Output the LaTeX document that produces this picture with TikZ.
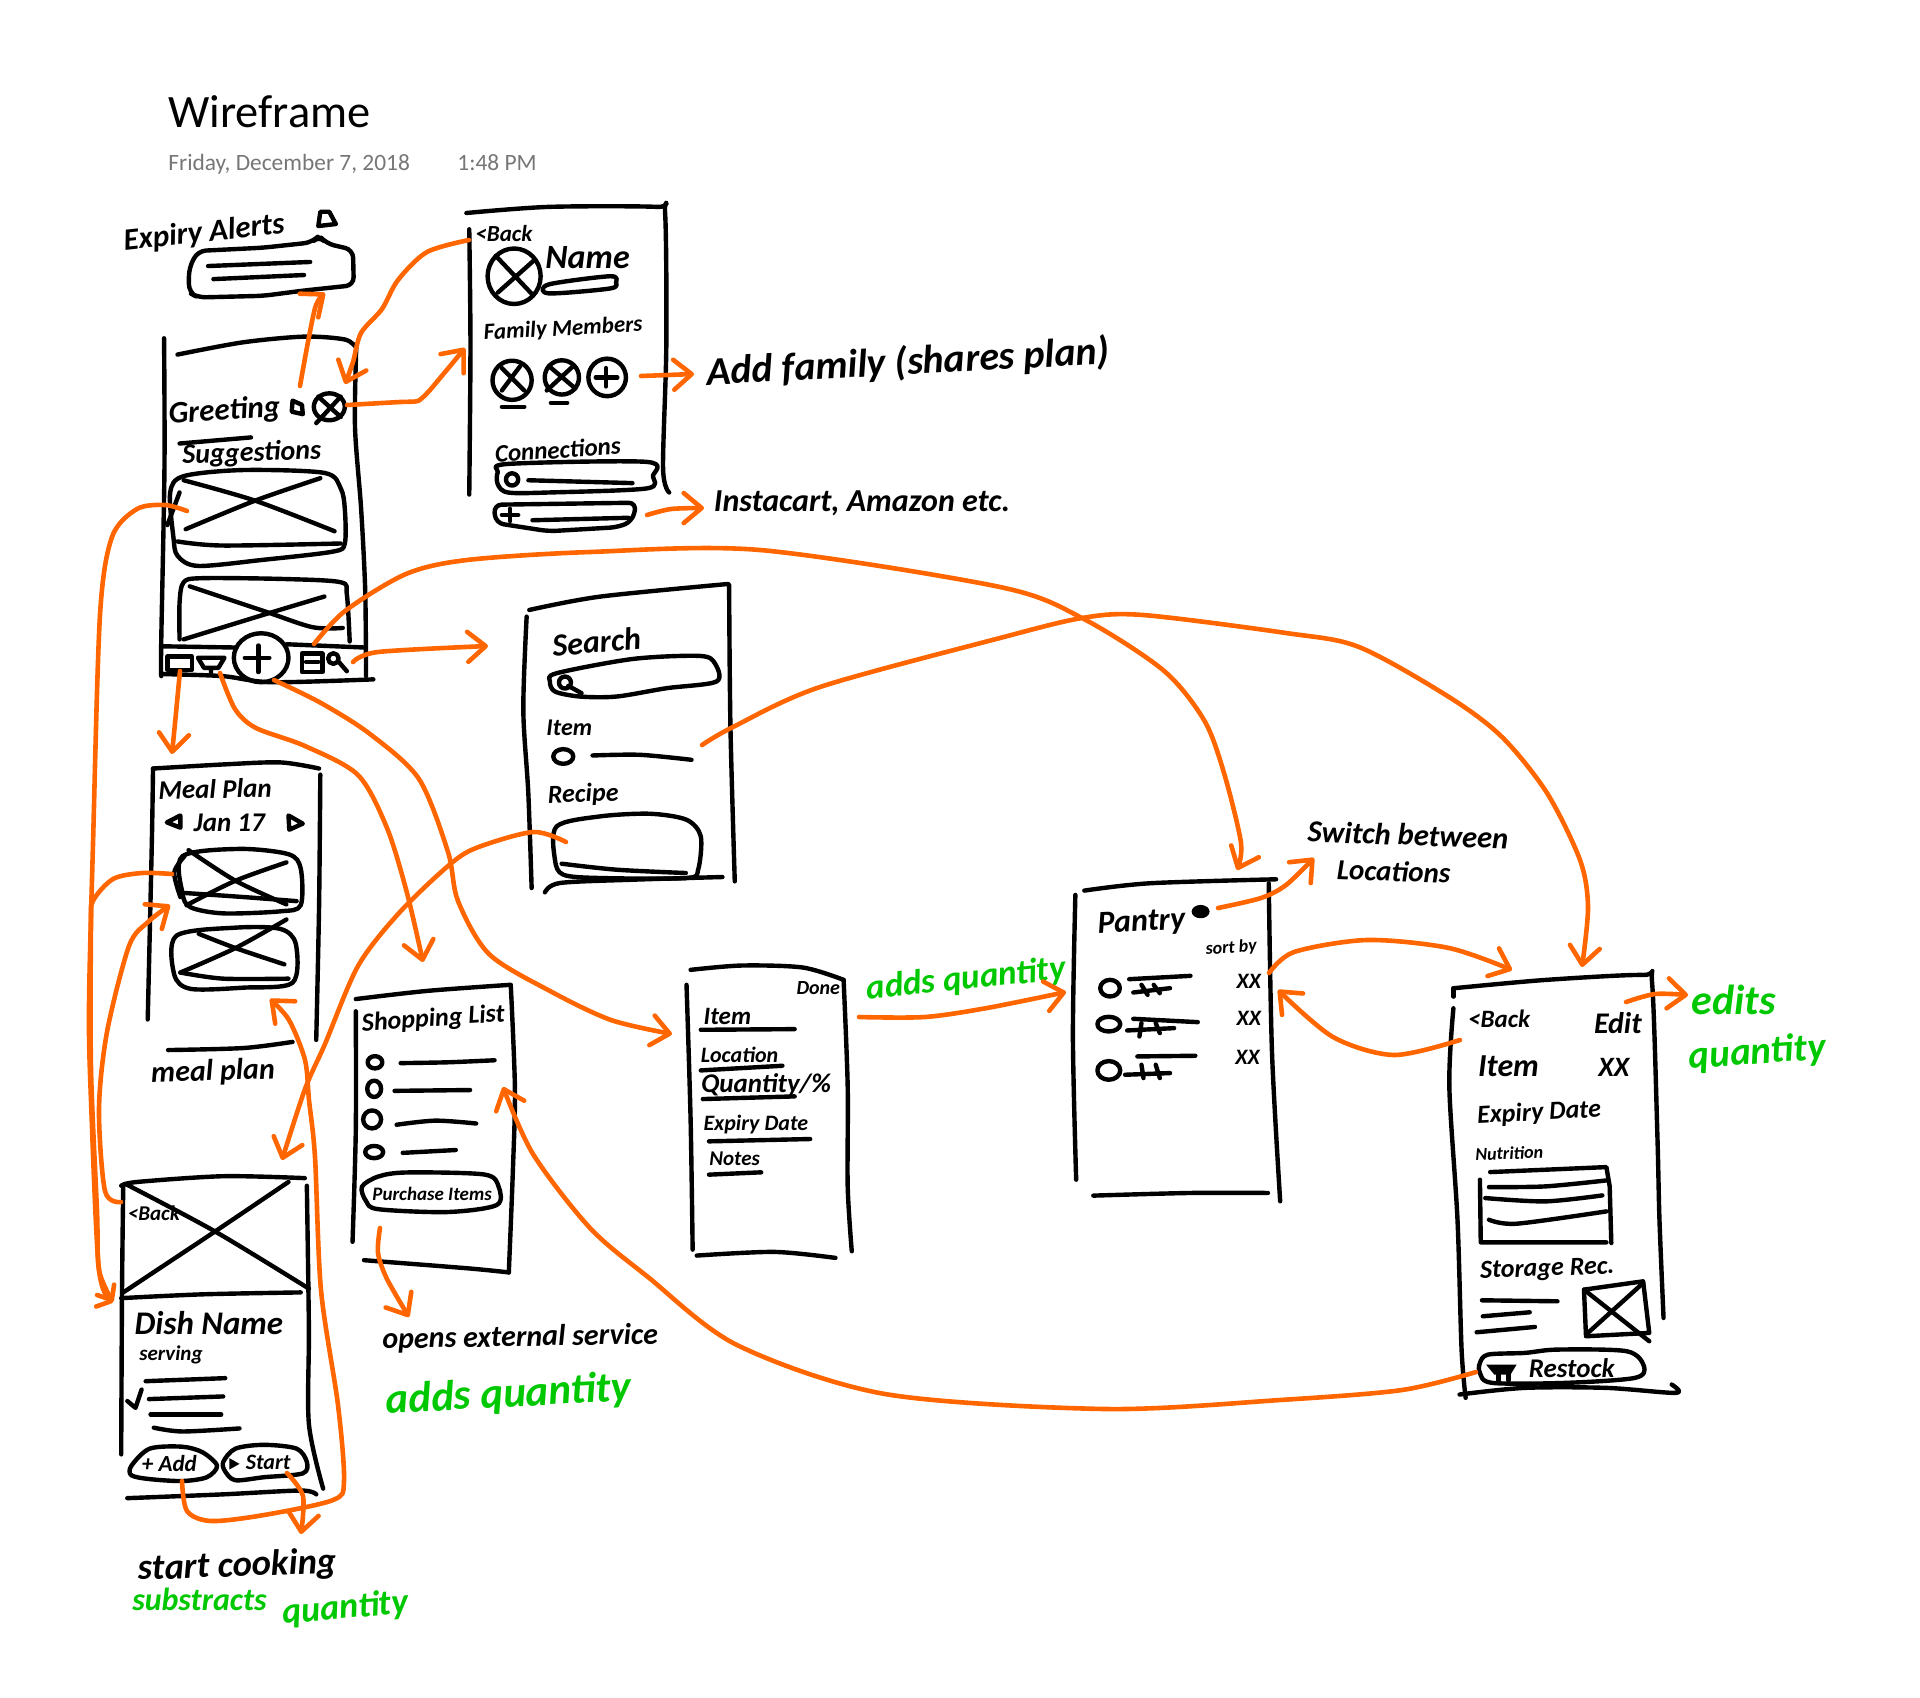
\documentclass[tikz,border=0pt]{standalone}
\usepackage{fontspec}
\setmainfont{Carlito}
\usetikzlibrary{arrows.meta}
\definecolor{flowinks}{HTML}{FF6600}
\definecolor{noteink}{HTML}{00C800}
\definecolor{stampgrey}{HTML}{767676}
\newcommand{\handsz}[1]{\bfseries\itshape\fontsize{#1}{#1}\selectfont}
\newcommand{\inkline}[1]{\draw [ink] plot [smooth] coordinates {#1};}
\newcommand{\inkloop}[1]{\draw [ink] plot [smooth cycle] coordinates {#1};}
\tikzset{
  ink/.style={line width=2.2pt,line cap=round,line join=round},
  flow/.style={line width=2.3pt,draw=flowinks,line cap=round,line join=round,
    -{Straight Barb[length=9pt,width=15pt,round]}},
  flowsmall/.style={flow,-{Straight Barb[length=6pt,width=10pt,round]}},
  hand/.style={font=\handsz{#1},inner sep=0pt},
  note/.style={hand=#1,text=noteink},
  frameA/.style={shift={(100,60)},xscale=.408,yscale=.408},
  frameB/.style={shift={(60,640)},xscale=.408,yscale=.408},
  frameC/.style={shift={(60,1100)},xscale=.408,yscale=.381},
  frameD/.style={shift={(660,820)},xscale=.408,yscale=.333},
  frameE/.style={shift={(1280,920)},xscale=.408,yscale=.333},
  frameF/.style={shift={(500,560)},xscale=.333,yscale=.333},
  frameG/.style={shift={(1000,540)},xscale=.408,yscale=.333}
}
\begin{document}
\begin{tikzpicture}[x=.5pt,y=-.5pt]
\useasboundingbox (0,0) rectangle (1920,1697);

% page heading
\node (title) [anchor=base west,inner sep=0pt,font=\fontsize{23.2}{23.2}\selectfont] at (168,127) {Wireframe};
\node (stampdate) [anchor=base west,inner sep=0pt,text=stampgrey,font=\fontsize{11.7}{11.7}\selectfont] at (168,170) {Friday, December 7, 2018};
\node (stamptime) [anchor=base west,inner sep=0pt,text=stampgrey,font=\fontsize{11.7}{11.7}\selectfont] at (457,170) {1:48 PM};

% home screen and alert, family screen
\begin{scope}[frameA]
\node (alerts) [hand=15.5,rotate=6] at (255,425) {Expiry Alerts};
\draw [ink] (540,372) -- (562,372) -- (578,402) -- (535,407) -- cycle;
\draw [ink,rounded corners=4pt] (240,468) -- (400,460) -- (520,447) -- (537,430) -- (555,450) -- (620,465) -- (622,552) -- (500,565) -- (400,578) -- (240,582) -- (218,570) -- (218,510) -- cycle;
\inkline{(265,505) (515,495)}
\inkline{(278,537) (500,527)}

\inkline{(157,682) (158,1000) (150,1430) (150,1510)}
\inkline{(190,722) (350,692) (500,678) (600,685) (628,705)}
\inkline{(628,705) (625,900) (640,1100) (650,1300) (652,1510)}
\inkline{(150,1505) (300,1510) (420,1525) (670,1518)}
\inkline{(155,1437) (335,1440)}
\inkline{(458,1432) (650,1440)}
\node (greeting) [hand=15.5,rotate=4] at (305,862) {Greeting};
\draw [ink] (472,835) -- (495,845) -- (497,868) -- (470,862) -- cycle;
\draw [ink] (562,850) ellipse [x radius=38,y radius=33];
\draw [ink] (535,825) -- (590,875) (590,825) -- (530,890);
\node (suggest) [hand=14,rotate=2] at (372,965) {Suggestions};
\inkline{(195,940) (370,925)}
\inkloop{(205,1020) (350,1005) (550,1012) (590,1050) (600,1100) (600,1185) (570,1205) (400,1225) (240,1240) (190,1215) (180,1170) (172,1060)}
\inkline{(205,1030) (380,1080) (575,1155)}
\inkline{(210,1150) (380,1080) (540,1025)}
\inkline{(190,1180) (300,1190) (590,1185)}
\inkline{(195,1060) (165,1140)}
\inkline{(195,1420) (195,1330) (205,1280) (250,1270) (450,1272) (590,1280) (605,1310) (612,1425)}
\inkline{(220,1290) (400,1350) (520,1390) (595,1392)}
\inkline{(205,1420) (400,1360) (550,1315)}
\draw [ink] (165,1462) rectangle (225,1495);
\draw [ink] (240,1465) -- (305,1465) -- (290,1490) -- (255,1490) -- cycle (272,1490) -- (272,1502);
\draw [ink] (395,1465) ellipse [x radius=67,y radius=60];
\draw [ink] (355,1465) -- (415,1465) (388,1435) -- (388,1500);
\draw [ink] (495,1455) rectangle (545,1500);
\draw [ink] (505,1475) -- (535,1475);
\draw [ink] (572,1467) circle [radius=13];
\draw [ink] (585,1475) -- (605,1498);

\inkline{(905,415) (908,700) (905,1065)}
\inkline{(898,375) (1100,360) (1365,360) (1385,375) (1388,700) (1380,1000) (1395,1060)}
\node (famback) [hand=11.5] at (990,425) {<Back};
\draw [ink] (1015,530) ellipse [x radius=65,y radius=68];
\draw [ink] (970,480) -- (1060,575) (1065,490) -- (975,570);
\node (famname) [hand=17] at (1195,485) {Name};
\inkloop{(1100,550) (1250,530) (1265,545) (1250,560) (1100,572)}
\node (fammembers) [hand=11.5,rotate=3] at (1135,660) {Family Members};
\draw [ink] (1010,785) circle [radius=48];
\draw [ink] (985,755) -- (1040,810) (1030,750) -- (985,810);
\draw [ink] (1132,778) circle [radius=42];
\draw [ink] (1100,750) -- (1165,805) (1160,750) -- (1095,810);
\draw [ink] (1243,778) circle [radius=46];
\draw [ink] (1215,778) -- (1268,778) (1240,755) -- (1240,800);
\inkline{(985,850) (1040,850)}
\inkline{(1105,840) (1145,840)}
\node (connections) [hand=12.5,rotate=4] at (1122,955) {Connections};
\inkloop{(975,1010) (1000,990) (1340,985) (1355,1020) (1340,1050) (1100,1060) (1000,1060) (975,1040)}
\draw [ink] (1010,1028) circle [radius=15];
\inkline{(1050,1030) (1305,1037)}
\draw [ink,rounded corners=4pt] (965,1090) -- (1315,1085) -- (1305,1130) -- (1270,1145) -- (1100,1155) -- (970,1135) -- cycle;
\draw [ink] (985,1115) -- (1025,1115) (1005,1100) -- (1005,1130);
\inkline{(1060,1128) (1295,1122)}
\end{scope}
\node (addfamily) [hand=20,rotate=3] at (908,363) {Add family (shares plan)};
\node (instacart) [hand=16] at (862,503) {Instacart, Amazon etc.};

% search screen
\begin{scope}[frameF]
\inkline{(80,170) (70,450) (85,700) (95,985)}
\inkline{(88,150) (300,110) (685,72)}
\inkline{(688,75) (692,500) (705,965)}
\inkline{(135,998) (180,970) (400,960) (668,952)}
\node (searchhead) [hand=16,rotate=5] at (290,245) {Search};
\inkloop{(150,365) (170,340) (400,297) (600,288) (645,310) (650,365) (500,385) (350,410) (240,410) (165,395)}
\draw [ink] (195,368) circle [radius=18];
\draw [ink] (205,378) -- (245,400);
\node (searchitem) [hand=12] at (208,505) {Item};
\draw [ink] (190,590) ellipse [x radius=30,y radius=22];
\inkline{(278,587) (420,585) (575,600)}
\node (searchrecipe) [hand=13,rotate=2] at (250,705) {Recipe};
\inkloop{(170,800) (300,770) (450,762) (560,780) (603,830) (595,930) (560,955) (300,955) (190,945) (165,900)}
\inkline{(185,912) (350,930) (558,940)}
\end{scope}

% meal plan and shopping list
\begin{scope}[frameB]
\inkline{(228,315) (225,500) (215,930)}
\inkline{(228,315) (400,305) (540,300) (635,315)}
\inkline{(638,330) (635,650) (628,980)}
\inkline{(265,1005) (450,1000) (570,985)}
\node (mealhead) [hand=13.5,rotate=1] at (380,365) {Meal Plan};
\node (mealdate) [hand=13.5] at (415,448) {Jan 17};
\draw [ink] (262,447) -- (295,430) -- (295,460) -- cycle;
\draw [ink] (560,430) -- (595,450) -- (562,465) -- cycle;
\inkloop{(300,530) (440,512) (560,525) (590,560) (590,650) (540,665) (400,670) (320,655) (300,620)}
\inkline{(305,530) (280,570) (295,630)}
\inkline{(315,515) (430,590) (555,648)}
\inkline{(555,545) (430,590) (310,650)}
\inkline{(305,620) (450,630) (580,640)}
\inkloop{(285,725) (430,705) (540,708) (578,745) (570,840) (450,852) (320,855) (280,820)}
\inkline{(340,720) (430,755) (550,795)}
\inkline{(555,685) (430,755) (295,815)}
\inkline{(295,815) (400,830) (560,830)}
\node (mealnote) [hand=15,rotate=2] at (375,1060) {meal plan};

\inkline{(725,910) (725,1200) (717,1475)}
\inkline{(725,880) (900,860) (1105,845)}
\inkline{(1105,850) (1115,1100) (1110,1300) (1100,1550)}
\inkline{(745,1520) (1000,1540) (1100,1550)}
\node (shophead) [hand=13,rotate=4] at (915,930) {Shopping List};
\draw [ink] (772,1035) ellipse [x radius=18,y radius=15];
\draw [ink] (770,1100) ellipse [x radius=17,y radius=20];
\draw [ink] (765,1175) ellipse [x radius=22,y radius=22];
\draw [ink] (770,1255) ellipse [x radius=22,y radius=15];
\inkline{(835,1037) (950,1035) (1065,1030)}
\inkline{(820,1105) (1005,1103)}
\inkline{(825,1188) (920,1178) (1020,1185)}
\inkline{(840,1257) (970,1250)}
\inkloop{(740,1340) (780,1315) (850,1305) (1040,1310) (1075,1340) (1070,1385) (950,1402) (780,1395) (750,1375)}
\node (shopbuy) [hand=9.5] at (912,1357) {Purchase Items};
\end{scope}

% dish screen
\begin{scope}[frameC]
\inkline{(150,225) (190,215) (400,200) (600,205)}
\inkline{(155,225) (152,500) (150,930)}
\inkline{(605,225) (610,600) (610,850) (645,1020)}
\inkline{(160,220) (380,345) (610,495)}
\inkline{(560,215) (380,345) (155,505)}
\inkline{(150,520) (350,510) (590,505)}
\inkline{(165,1045) (400,1035) (590,1025) (628,1035)}
\node (dishback) [hand=10.5] at (230,298) {<Back};
\node (dishname) [hand=16.5] at (365,585) {Dish Name};
\node (dishserve) [hand=10.5] at (272,670) {serving};
\inkline{(210,738) (405,730)}
\inkline{(218,785) (400,778)}
\inkline{(222,825) (395,825)}
\inkline{(230,860) (300,870) (440,862)}
\draw [ink] (165,790) -- (185,808) -- (200,760);
\inkloop{(175,960) (220,915) (300,910) (350,925) (385,960) (360,990) (300,1000) (220,995) (175,985)}
\node (dishadd) [hand=11.5] at (268,955) {+ Add};
\inkloop{(400,950) (430,915) (500,905) (580,915) (605,950) (595,980) (500,990) (430,998) (405,975)}
\fill (415,940) -- (440,955) -- (415,970) -- cycle;
\node (dishstart) [hand=11] at (510,950) {Start};
\node (cooking) [hand=18.3,rotate=2] at (435,1225) {start cooking};
\node (subtract) [note=16] at (342,1310) {substracts};
\node (subqty) [note=18,rotate=5] at (700,1335) {quantity};
\node (opens) [hand=15,rotate=1] at (1128,625) {opens external service};
\node (shopqty) [note=21.5,rotate=3] at (1100,775) {adds quantity};
\end{scope}

% item form and pantry
\begin{scope}[frameD]
\inkline{(65,495) (75,900) (80,1290)}
\inkline{(75,450) (200,437) (350,443) (450,480)}
\inkline{(450,480) (460,800) (460,1100) (470,1295)}
\inkline{(90,1308) (280,1297) (430,1315)}
\node (formdone) [hand=10] at (388,505) {Done};
\node (formitem) [hand=12.5] at (165,590) {Item};
\inkline{(100,630) (330,628)}
\node (formloc) [hand=11] at (195,705) {Location};
\inkline{(100,752) (300,738)}
\node (formqty) [hand=13.5] at (260,795) {Quantity/\%};
\inkline{(105,838) (330,830)}
\node (formexp) [hand=11] at (235,915) {Expiry Date};
\inkline{(120,965) (368,958)}
\node (formnotes) [hand=10.5] at (183,1018) {Notes};
\inkline{(120,1065) (248,1058)}
\node (formqtynote) [note=17.5,rotate=6] at (750,480) {adds quantity};

\inkline{(1018,225) (1012,650) (1020,1080)}
\inkline{(1040,212) (1200,190) (1510,178)}
\inkline{(1492,190) (1500,700) (1520,1145)}
\inkline{(1062,1128) (1300,1120) (1490,1120)}
\node (panhead) [hand=16,rotate=3] at (1180,310) {Pantry};
\fill (1325,275) ellipse [x radius=22,y radius=20];
\node (pansort) [hand=9,rotate=4] at (1400,385) {sort by};
\draw [ink] (1103,505) ellipse [x radius=24,y radius=25];
\draw [ink] (1100,613) ellipse [x radius=28,y radius=22];
\draw [ink] (1100,752) ellipse [x radius=28,y radius=28];
\inkline{(1150,478) (1300,468)}
\inkline{(1160,597) (1318,607)}
\inkline{(1170,710) (1312,708)}
\draw [ink] (1160,518) -- (1250,505) (1180,495) -- (1195,525) (1210,495) -- (1225,520);
\draw [ink] (1145,632) -- (1260,625) (1180,610) -- (1175,650) (1215,610) -- (1225,640);
\draw [ink] (1140,765) -- (1250,760) (1180,735) -- (1185,775) (1215,735) -- (1225,775);
\node (panqa) [hand=11] at (1443,485) {XX};
\node (panqb) [hand=11] at (1443,595) {XX};
\node (panqc) [hand=11] at (1440,712) {XX};
\end{scope}

\begin{scope}[frameG]
\node (switchline) [hand=15.3,rotate=-2] at (1000,885) {Switch between};
\node (switchloc) [hand=14.5,rotate=-2] at (965,995) {Locations};
\end{scope}

% item detail
\begin{scope}[frameE]
\inkline{(425,230) (425,205)}
\inkline{(425,205) (650,180) (890,165) (912,190) (925,650) (930,900) (940,1195)}
\inkline{(425,265) (415,500) (435,900) (445,1290) (455,1435)}
\inkline{(440,1425) (600,1405) (800,1405) (970,1420) (960,1395)}
\node (detback) [hand=12.5] at (537,297) {<Back};
\node (detedit) [hand=15] at (828,310) {Edit};
\node (detitem) [hand=16] at (560,438) {Item};
\node (detqty) [hand=14] at (818,443) {XX};
\node (detexp) [hand=13,rotate=3] at (635,580) {Expiry Date};
\node (detnutri) [hand=9,rotate=2] at (562,700) {Nutrition};
\draw [ink] (515,757) -- (800,742) -- (808,800) -- (812,970);
\draw [ink] (490,780) -- (492,968) -- (800,968);
\inkline{(512,802) (650,800) (800,782)}
\inkline{(503,835) (650,845) (790,827)}
\inkline{(512,900) (580,912) (800,875)}
\node (detstore) [hand=13,rotate=2] at (655,1050) {Storage Rec.};
\inkline{(495,1142) (680,1145)}
\inkline{(497,1190) (612,1178)}
\inkline{(482,1238) (625,1222)}
\draw [ink] (745,1110) -- (890,1085) -- (905,1240) -- (750,1250) -- cycle;
\draw [ink] (745,1110) -- (905,1265) (890,1090) -- (750,1245);
\inkloop{(490,1330) (510,1305) (600,1300) (680,1290) (850,1295) (892,1340) (870,1375) (700,1390) (520,1390) (490,1360)}
\fill (505,1335) -- (580,1335) -- (565,1365) -- (525,1365) -- cycle;
\draw [ink] (535,1365) -- (535,1382) (560,1365) -- (560,1382);
\node (detrestock) [hand=13.5] at (715,1345) {Restock};
\node (detedits) [note=21] at (1112,240) {edits};
\node (detqtynote) [note=19.5,rotate=4] at (1170,400) {quantity};
\end{scope}

% connector ends
\coordinate (homeBell) at (300,386);
\coordinate (alertBox) at (325,293);
\coordinate (famBack) at (469,240);
\coordinate (homeFace) at (345,384);
\coordinate (faceOut) at (347,405);
\coordinate (famSide) at (465,348);
\coordinate (plusOut) at (641,376);
\coordinate (addIn) at (694,374);
\coordinate (pillOut) at (647,515);
\coordinate (instaIn) at (704,508);
\coordinate (bookOut) at (314,644);
\coordinate (panTop) at (1237,870);
\coordinate (lensOut) at (353,662);
\coordinate (searchIn) at (488,646);
\coordinate (calOut) at (180,671);
\coordinate (mealTop) at (172,754);
\coordinate (cartOut) at (220,673);
\coordinate (shopTop) at (423,962);
\coordinate (addOut) at (274,680);
\coordinate (formIn) at (672,1034);
\coordinate (itemOut) at (702,745);
\coordinate (detTop) at (1582,967);
\coordinate (recipeOut) at (566,842);
\coordinate (dishTop) at (282,1160);
\coordinate (mealCard) at (172,874);
\coordinate (homeCard) at (187,511);
\coordinate (dishSide) at (113,1302);
\coordinate (dishBack) at (121,1202);
\coordinate (mealCardB) at (170,905);
\coordinate (dishAdd) at (182,1481);
\coordinate (mealLow) at (270,999);
\coordinate (dishStart) at (287,1473);
\coordinate (cookIn) at (301,1534);
\coordinate (buyOut) at (380,1228);
\coordinate (opensIn) at (409,1317);
\coordinate (restock) at (1476,1372);
\coordinate (shopSide) at (503,1087);
\coordinate (formOut) at (859,1017);
\coordinate (panLeft) at (1066,992);
\coordinate (panBell) at (1218,908);
\coordinate (switchIn) at (1314,858);
\coordinate (panRow) at (1269,973);
\coordinate (detCorner) at (1512,970);
\coordinate (detLeft) at (1460,1040);
\coordinate (panSide) at (1278,990);
\coordinate (editOut) at (1626,1002);
\coordinate (editsIn) at (1688,995);

\draw [flow] plot [smooth] coordinates {(homeBell) (308,342) (316,305) (alertBox)};
\draw [flow] plot [smooth] coordinates {(famBack) (427,252) (398,280) (382,309) (361,333) (353,362) (homeFace)};
\draw [flow] plot [smooth,tension=.3] coordinates {(faceOut) (400,402) (418,401) (430,390) (famSide)};
\draw [flow] (plusOut) -- (addIn);
\draw [flow] plot [smooth] coordinates {(pillOut) (671,509) (instaIn)};
\draw [flow] plot [smooth] coordinates {(bookOut) (345,611) (406,574) (467,560) (590,552) (760,550) (1000,587) (1082,618) (1163,670) (1204,720) (1224,773) (1241,843) (panTop)};
\draw [flow] plot [smooth] coordinates {(lensOut) (378,652) (searchIn)};
\draw [flow] plot [smooth] coordinates {(calOut) (176,713) (mealTop)};
\draw [flow] plot [smooth] coordinates {(cartOut) (235,709) (256,728) (305,746) (358,775) (387,828) (407,893) (shopTop)};
\draw [flow] plot [smooth] coordinates {(addOut) (321,703) (370,734) (419,779) (448,852) (458,901) (489,954) (550,991) (611,1020) (formIn)};
\draw [flow] plot [smooth] coordinates {(itemOut) (733,727) (820,687) (1000,638) (1082,618) (1143,615) (1286,633) (1359,647) (1449,697) (1502,737) (1547,793) (1580,860) (1588,907) (detTop)};
\draw [flow] plot [smooth] coordinates {(recipeOut) (533,832) (476,848) (448,866) (399,913) (358,966) (325,1044) (305,1089) (dishTop)};
\draw [flowsmall] plot [smooth] coordinates {(mealCard) (142,873) (113,879) (93,901) (91,926) (91,1069) (97,1211) (99,1270) (dishSide)};
\draw [flowsmall] plot [smooth] coordinates {(homeCard) (165,505) (137,509) (112,537) (100,615) (93,844) (89,1007) (91,1100) (99,1270) (dishSide)};
\draw [flow] plot [smooth] coordinates {(dishBack) (105,1191) (99,1109) (107,1032) (129,946) (148,922) (mealCardB)};
\draw [flow] plot [smooth] coordinates {(dishAdd) (187,1511) (211,1521) (264,1515) (333,1500) (344,1481) (338,1405) (321,1290) (315,1157) (309,1100) (305,1060) (289,1020) (mealLow)};
\draw [flow] plot [smooth] coordinates {(dishStart) (303,1496) (cookIn)};
\draw [flow] plot [smooth] coordinates {(buyOut) (378,1253) (387,1279) (opensIn)};
\draw [flow] plot [smooth] coordinates {(restock) (1402,1390) (1280,1400) (1106,1409) (885,1394) (737,1345) (648,1277) (590,1228) (533,1154) (shopSide)};
\draw [flow] plot [smooth] coordinates {(formOut) (925,1017) (987,1008) (panLeft)};
\draw [flow] plot [smooth] coordinates {(panBell) (1261,898) (1286,885) (switchIn)};
\draw [flow] plot [smooth] coordinates {(panRow) (1294,952) (1367,940) (1449,948) (detCorner)};
\draw [flow] plot [smooth] coordinates {(detLeft) (1394,1055) (1333,1037) (panSide)};
\draw [flow] plot [smooth] coordinates {(editOut) (1655,994) (editsIn)};
\end{tikzpicture}
\end{document}
